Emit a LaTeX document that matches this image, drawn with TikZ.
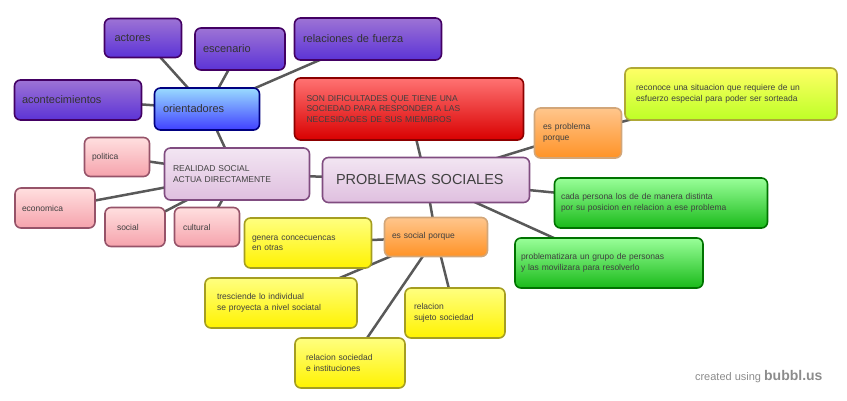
\documentclass[tikz,border=0pt]{standalone}
\usepackage{fontspec}
\setmainfont{Liberation Sans}
\usetikzlibrary{backgrounds}
\tikzset{
 bx/.style={rounded corners=6pt,line width=1.6pt,align=left,font=\fontsize{8.5}{10.5}\selectfont,inner sep=0pt,text=black!75,text width=#1},
 bx/.default=60pt,
 purp/.style={draw=purple!50!black!70!blue,top color=blue!40!violet!55,bottom color=blue!60!violet!80,text=black!80},
 blu/.style={draw=blue!50!black,top color=blue!35!cyan!40,bottom color=blue!75,text=black!80},
 rd/.style={draw=red!55!black,top color=red!55,bottom color=red!85!black},
 yg/.style={draw=olive!70,top color=yellow!60!white,bottom color=yellow!70!green!85},
 org/.style={draw=brown!70,top color=orange!45,bottom color=orange!85},
 pnk/.style={draw=purple!35!gray,top color=pink!50,bottom color=pink!85!purple},
 lav/.style={draw=violet!40!gray,top color=violet!10,bottom color=violet!25},
 grn/.style={draw=green!45!black,top color=green!40,bottom color=green!70!black!90},
 ylw/.style={draw=olive!80,top color=yellow!50,bottom color=yellow!90!orange},
 ed/.style={draw=black!65,line width=2.5pt}
}
\begin{document}
\begin{tikzpicture}[x=1pt,y=-1pt]
\useasboundingbox (0,0) rectangle (847,400);
\node[bx,purp,minimum width=77pt,minimum height=39pt,text width=57pt,font=\fontsize{11}{13}\selectfont] (act) at (143,38) {actores};
\node[bx,purp,minimum width=90pt,minimum height=42pt,text width=74pt,font=\fontsize{11}{13}\selectfont] (esc) at (240,49) {escenario};
\node[bx,purp,minimum width=147pt,minimum height=42pt,text width=130pt,font=\fontsize{11}{13}\selectfont] (rel) at (368,39) {relaciones de fuerza};
\node[bx,purp,minimum width=127pt,minimum height=40pt,text width=112pt,font=\fontsize{11}{13}\selectfont] (aco) at (78,100) {acontecimientos};
\node[bx,blu,minimum width=105pt,minimum height=42pt,text width=88pt,font=\fontsize{11}{13}\selectfont] (ori) at (207,109) {orientadores};
\node[bx,rd,minimum width=229pt,minimum height=62pt,text width=205pt] (son) at (409,109) {\raisebox{8pt}{\parbox{205pt}{SON DIFICULTADES QUE TIENE UNA\\SOCIEDAD PARA RESPONDER A LAS\\NECESIDADES DE SUS MIEMBROS}}};
\node[bx,yg,minimum width=212pt,minimum height=52pt,text width=190pt] (rec) at (731,94) {\raisebox{6pt}{\parbox{190pt}{reconoce una situacion que requiere de un\\esfuerzo especial para poder ser sorteada}}};
\node[bx,org,minimum width=87pt,minimum height=50pt,text width=70pt] (esp) at (578,133) {es problema\\porque};
\node[bx,pnk,minimum width=65pt,minimum height=39pt,text width=50pt] (pol) at (117,157) {politica};
\node[bx,lav,minimum width=145pt,minimum height=52pt,text width=128pt] (real) at (237,174) {REALIDAD SOCIAL\\ACTUA DIRECTAMENTE};
\node[bx,lav,minimum width=207pt,minimum height=45pt,text width=180pt,font=\fontsize{14.5}{16}\selectfont] (ps) at (426,180) {PROBLEMAS SOCIALES};
\node[bx,pnk,minimum width=80pt,minimum height=40pt,text width=66pt] (eco) at (55,208) {economica};
\node[bx,pnk,minimum width=60pt,minimum height=39pt,text width=36pt] (soc) at (135,227) {social};
\node[bx,pnk,minimum width=65pt,minimum height=39pt,text width=48pt] (cul) at (207,227) {cultural};
\node[bx,grn,minimum width=213pt,minimum height=50pt,text width=200pt] (cada) at (661,203) {cada persona los de de manera distinta\\por su posicion en relacion a ese problema};
\node[bx,ylw,minimum width=127pt,minimum height=50pt,text width=112pt] (gen) at (308,243) {genera concecuencas\\en otras};
\node[bx,org,minimum width=103pt,minimum height=39pt,text width=88pt] (esoc) at (436,237) {\raisebox{3pt}{es social porque}};
\node[bx,grn,minimum width=188pt,minimum height=50pt,text width=176pt] (prob) at (609,263) {problematizara un grupo de personas\\y las movilizara para resolverlo};
\node[bx,ylw,minimum width=152pt,minimum height=50pt,text width=128pt] (tre) at (281,303) {tresciende lo individual\\se proyecta a nivel sociatal};
\node[bx,ylw,minimum width=100pt,minimum height=50pt,text width=82pt] (rss) at (455,313) {relacion\\sujeto sociedad};
\node[bx,ylw,minimum width=110pt,minimum height=50pt,text width=88pt] (rsi) at (350,363) {relacion sociedad\\e instituciones};
\node[text=black!45,font=\fontsize{11}{13}\selectfont,anchor=east] (wm) at (826,377) {created using \textbf{\fontsize{14}{16}\selectfont bubbl.us}};
\begin{scope}[on background layer]
\draw[ed] (ori.center)--(act.center) (ori.center)--(esc.center) (ori.center)--(rel.center) (ori.center)--(aco.center) (ori.center)--(real.center);
\draw[ed] (real.center)--(pol.center) (real.center)--(eco.center) (real.center)--(soc.center) (real.center)--(cul.center) (real.center)--(ps.center);
\draw[ed] (ps.center)--(son.center) (ps.center)--(esp.center) (esp.center)--(rec.center) (ps.center)--(cada.center) (ps.center)--(prob.center) (ps.center)--(esoc.center);
\draw[ed] (esoc.center)--(gen.center) (esoc.center)--(tre.center) (esoc.center)--(rss.center) (esoc.center)--(rsi.center);
\end{scope}
\end{tikzpicture}
\end{document}
